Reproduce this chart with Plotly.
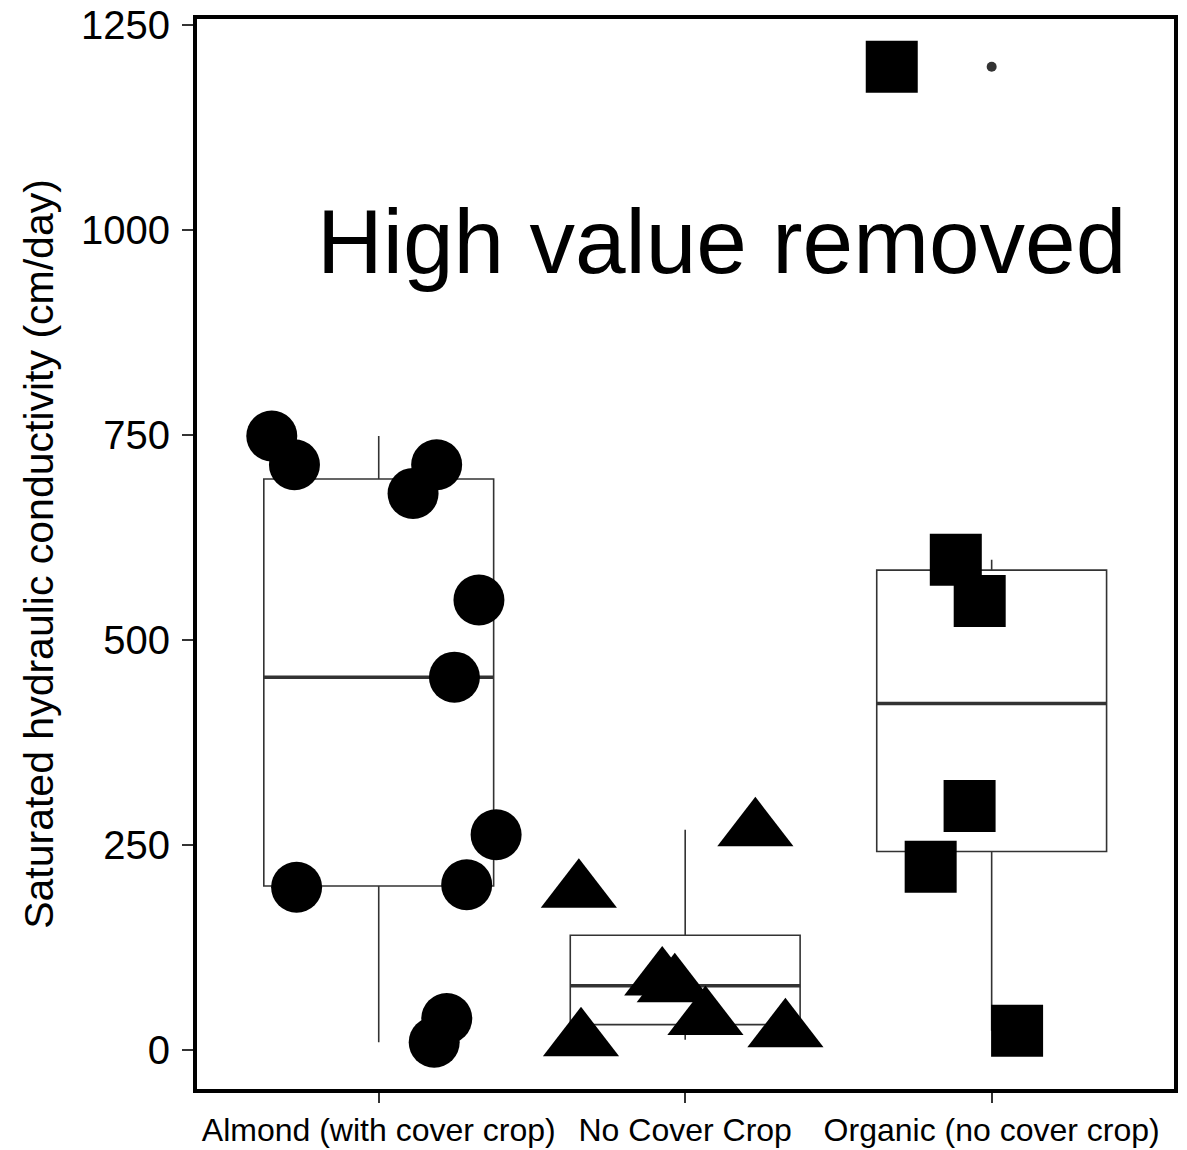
import numpy as np
import plotly.graph_objects as go

categories = ["Almond (with cover crop)", "No Cover Crop", "Organic (no cover crop)"]

almond_vals = [749, 714, 714, 679, 549, 455, 263, 199, 202, 39, 10]
almond_jitter = [-0.349, -0.275, 0.189, 0.112, 0.327, 0.247, 0.383, -0.268, 0.287, 0.222, 0.181]

nocover_vals = [194, 269, 87, 79, 39, 24, 13]
nocover_jitter = [-0.347, 0.229, -0.075, -0.034, 0.066, 0.327, -0.340]

organic_vals = [1199, 598, 548, 298, 224, 24]
organic_jitter = [-0.326, -0.117, -0.039, -0.072, -0.199, 0.083]

y_ticks = [0, 250, 500, 750, 1000, 1250]

groups = [
    (almond_vals, almond_jitter, "circle", 51),
    (nocover_vals, nocover_jitter, "triangle-up", 66),
    (organic_vals, organic_jitter, "square", 52),
]

BOX_W = 0.75
LINE_C = "#333333"
FONT = "Liberation Sans, Arial, Helvetica, sans-serif"

fig = go.Figure()

outlier_x, outlier_y = [], []
for i, (vals, jit, sym, sz) in enumerate(groups):
    v = np.array(vals, dtype=float)
    q1, med, q3 = np.percentile(v, [25, 50, 75])
    iqr = q3 - q1
    lo_lim, hi_lim = q1 - 1.5 * iqr, q3 + 1.5 * iqr
    inside = v[(v >= lo_lim) & (v <= hi_lim)]
    lf, uf = inside.min(), inside.max()
    for val in v[(v < lo_lim) | (v > hi_lim)]:
        outlier_x.append(i)
        outlier_y.append(val)
    fig.add_trace(go.Box(
        x=[i], q1=[q1], median=[med], q3=[q3], lowerfence=[lf], upperfence=[uf],
        width=BOX_W, whiskerwidth=0, boxpoints=False,
        line=dict(color=LINE_C, width=1.6), fillcolor="rgba(255,255,255,0)",
        showlegend=False, hoverinfo="skip",
    ))
    fig.add_trace(go.Scatter(
        x=[i - BOX_W / 2, i + BOX_W / 2], y=[med, med], mode="lines",
        line=dict(color=LINE_C, width=3.5), showlegend=False, hoverinfo="skip",
    ))

for i, (vals, jit, sym, sz) in enumerate(groups):
    fig.add_trace(go.Scatter(
        x=[i + j for j in jit], y=vals, mode="markers",
        marker=dict(symbol=sym, size=sz, color="black", line=dict(width=0)),
        showlegend=False, hoverinfo="skip",
    ))

fig.add_trace(go.Scatter(
    x=outlier_x, y=outlier_y, mode="markers",
    marker=dict(symbol="circle", size=10, color=LINE_C, line=dict(width=0)),
    showlegend=False, hoverinfo="skip",
))

fig.add_annotation(
    x=1.12, y=986, xref="x", yref="y", text="High value removed",
    showarrow=False, font=dict(family=FONT, size=91, color="black"),
    xanchor="center", yanchor="middle",
)

fig.update_layout(
    width=1187, height=1150,
    margin=dict(l=197, r=13, t=19, b=61, autoexpand=False),
    paper_bgcolor="white", plot_bgcolor="white",
    font=dict(family=FONT, color="black"),
    showlegend=False,
)
fig.update_xaxes(
    range=[-0.593, 2.595], tickvals=[0, 1, 2], ticktext=categories,
    ticks="outside", ticklen=10, tickwidth=1.6, tickcolor=LINE_C,
    showline=True, linewidth=4, linecolor="black", mirror=True,
    showgrid=False, zeroline=False, tickfont=dict(size=32, color="black"),
)
fig.update_yaxes(
    range=[-47, 1257.3], tickvals=y_ticks, ticktext=[str(t) for t in y_ticks],
    ticks="outside", ticklen=11, tickwidth=1.6, tickcolor=LINE_C,
    showline=True, linewidth=4, linecolor="black", mirror=True,
    showgrid=False, zeroline=False, tickfont=dict(size=40, color="black"),
    ticklabelstandoff=4,
    title=dict(text="Saturated hydraulic conductivity (cm/day)", font=dict(size=41, color="black"), standoff=16),
)

fig.write_html("out.html")
